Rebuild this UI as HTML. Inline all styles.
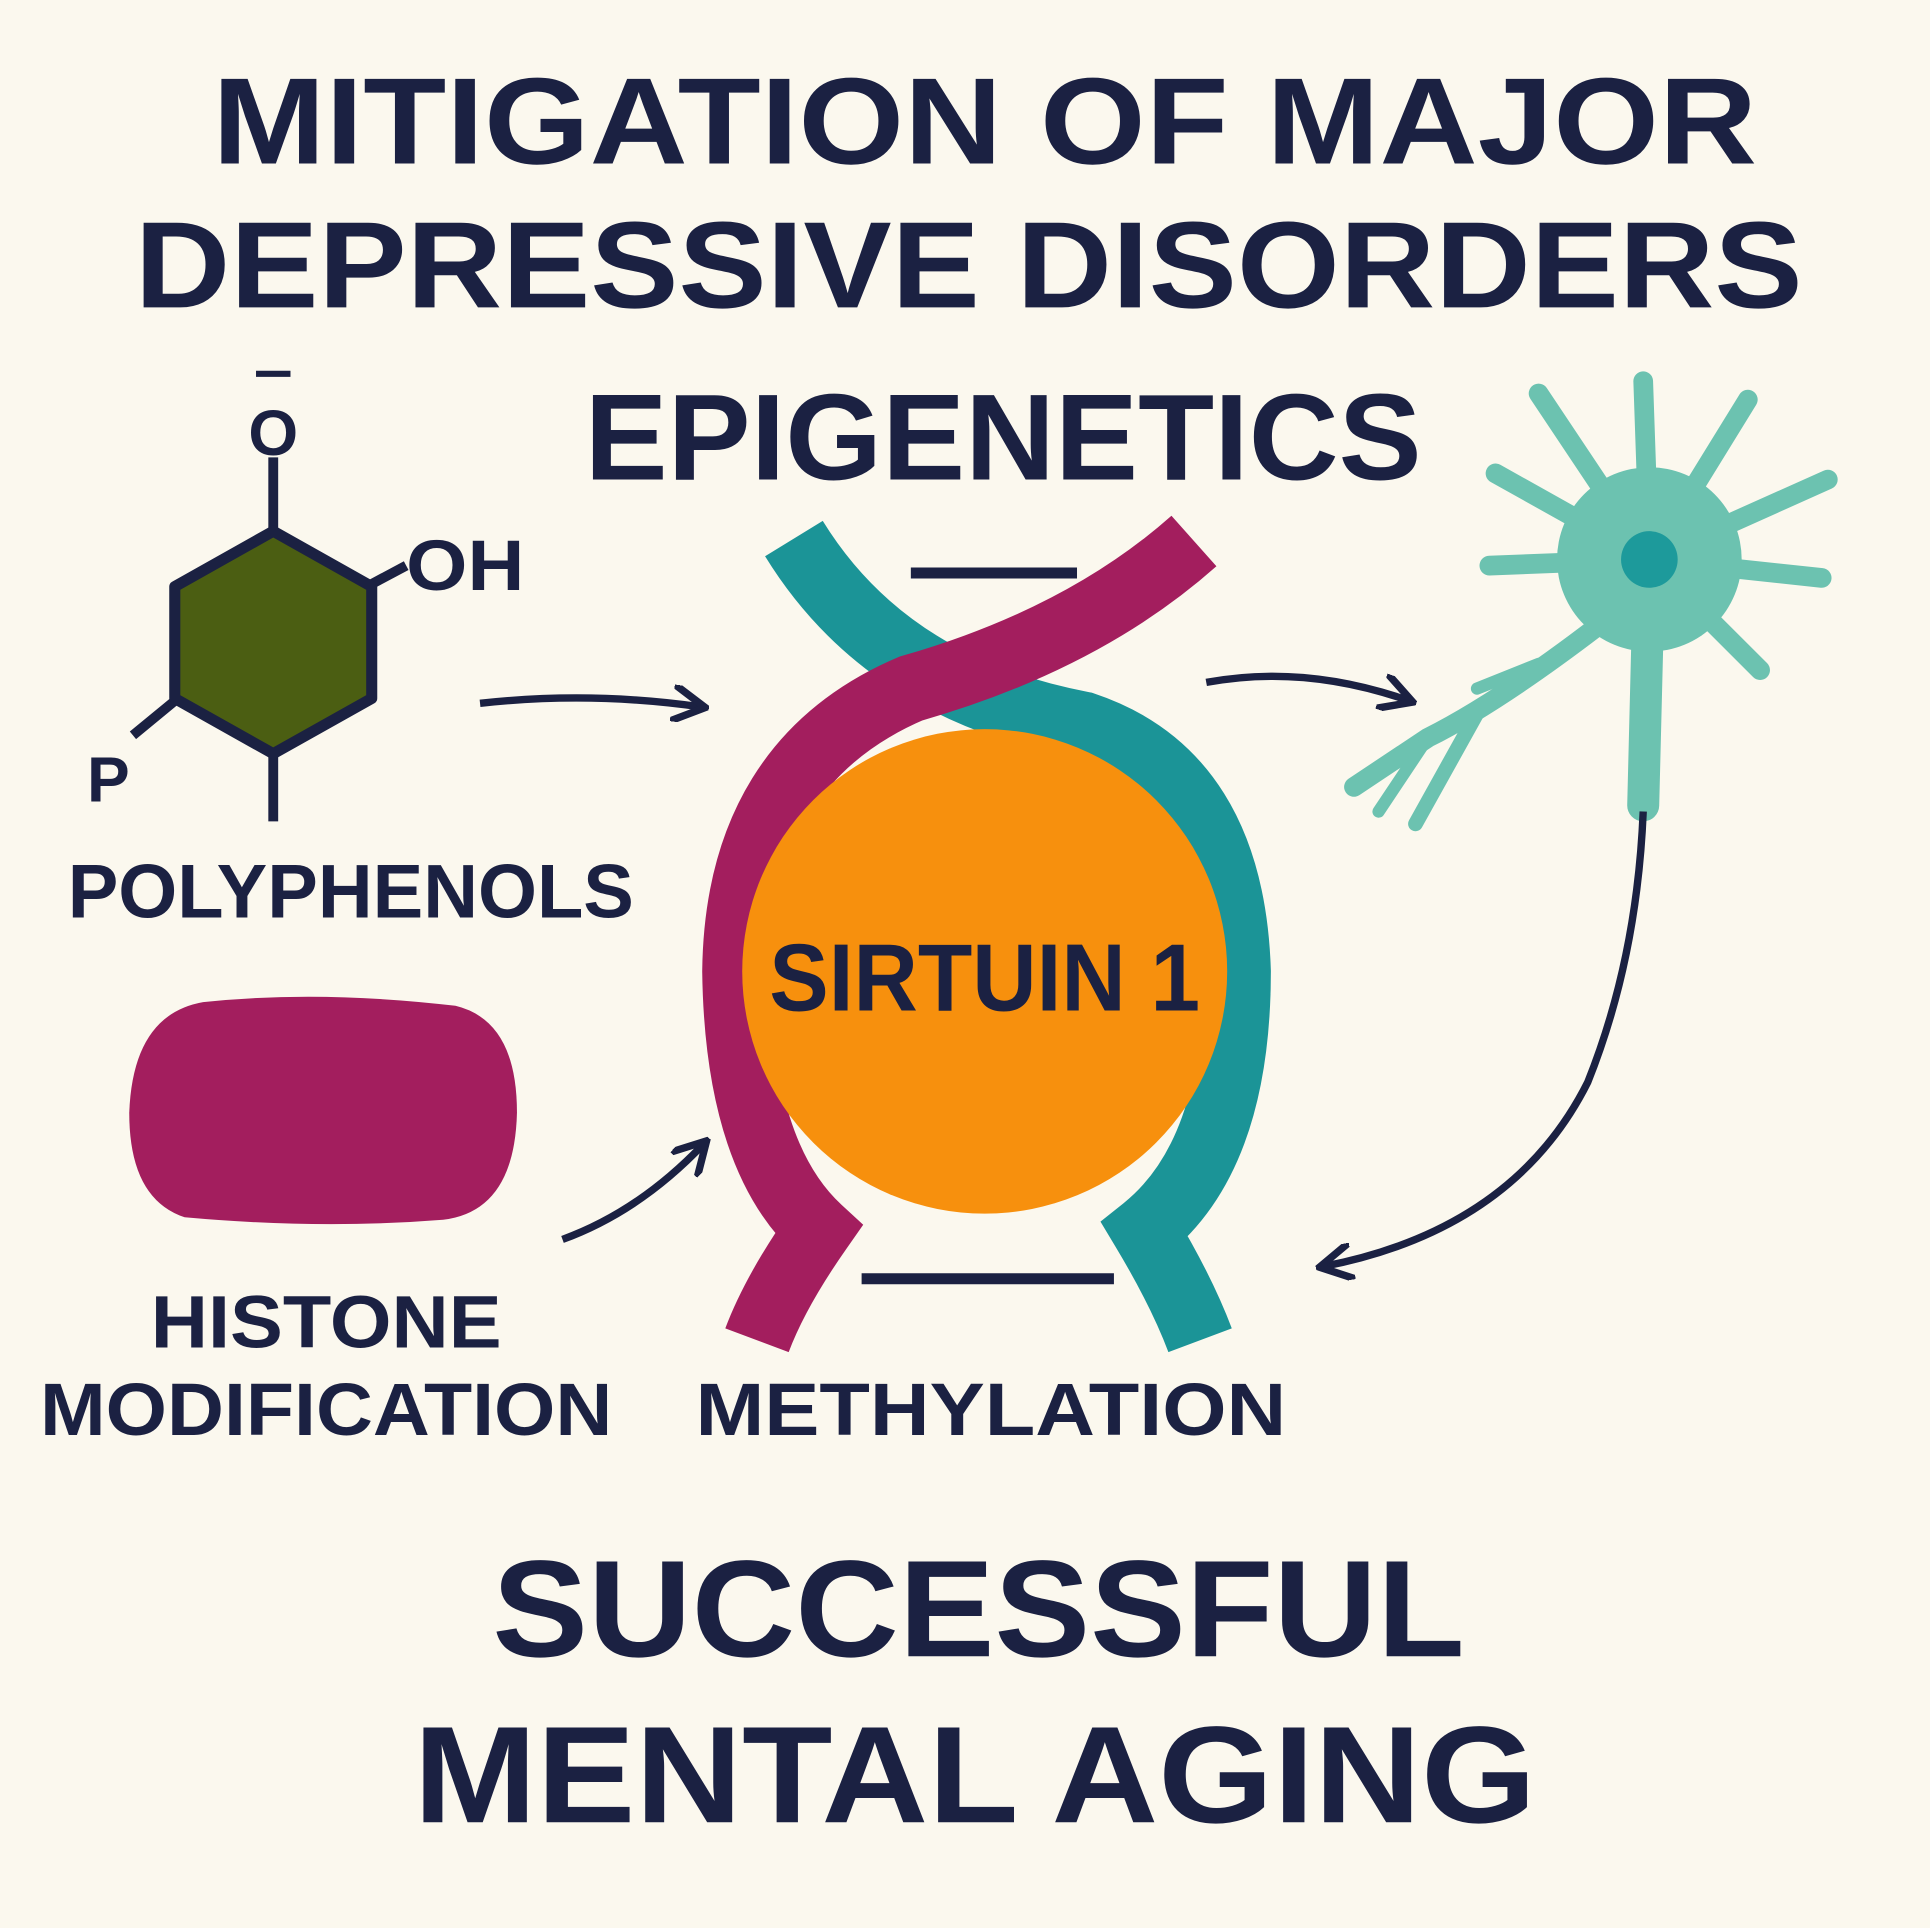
<!DOCTYPE html>
<html><head><meta charset="utf-8"><style>
html,body{margin:0;padding:0;background:#fbf8ee;}
svg{display:block;}
text{font-family:"Liberation Sans",sans-serif;font-weight:bold;fill:#1b2142;text-anchor:middle;}
</style></head><body>
<svg width="1930" height="1928" viewBox="0 0 1568 1568" preserveAspectRatio="none" xmlns="http://www.w3.org/2000/svg">
<defs>
<marker id="ah" viewBox="0 0 10 10" refX="8" refY="5" markerWidth="5" markerHeight="5" orient="auto">
<path d="M0,0 L9,5 L0,10" fill="none" stroke="#1b2142" stroke-width="2"/>
</marker>
</defs>
<rect width="1568" height="1568" fill="#fbf8ee"/>
<text x="800" y="133" font-size="100" textLength="1255" lengthAdjust="spacingAndGlyphs">MITIGATION OF MAJOR</text>
<text x="787" y="250" font-size="100" textLength="1355" lengthAdjust="spacingAndGlyphs">DEPRESSIVE DISORDERS</text>
<text x="815" y="390" font-size="100" textLength="680" lengthAdjust="spacingAndGlyphs">EPIGENETICS</text>

<!-- polyphenol -->
<line x1="222" y1="372" x2="222" y2="432" stroke="#1b2142" stroke-width="8"/>
<line x1="300" y1="476" x2="330" y2="460" stroke="#1b2142" stroke-width="8"/>
<line x1="142" y1="570" x2="108" y2="598" stroke="#1b2142" stroke-width="8"/>
<line x1="222" y1="612" x2="222" y2="668" stroke="#1b2142" stroke-width="8"/>
<polygon points="222,432 302,477 302,568 222,613 142,568 142,477" fill="#4b5e12" stroke="#1b2142" stroke-width="9" stroke-linejoin="round"/>
<text x="222" y="370" font-size="52">O</text>
<line x1="208" y1="304" x2="236" y2="304" stroke="#1b2142" stroke-width="5"/>
<text x="378" y="480" font-size="58" textLength="96" lengthAdjust="spacingAndGlyphs">OH</text>
<text x="88" y="652" font-size="52">P</text>
<text x="285" y="746" font-size="62" textLength="460" lengthAdjust="spacingAndGlyphs">POLYPHENOLS</text>
<path d="M390,572 Q480,562 570,575" fill="none" stroke="#1b2142" stroke-width="6" marker-end="url(#ah)"/>

<!-- histone -->
<path d="M165,815 Q260,805 370,818 Q420,830 420,905 Q418,985 360,992 Q260,1000 150,990 Q105,975 105,905 Q108,825 165,815 Z" fill="#a31e5e"/>
<path d="M457,1008 Q520,985 572,930" fill="none" stroke="#1b2142" stroke-width="6" marker-end="url(#ah)"/>
<text x="265" y="1096" font-size="60" textLength="285" lengthAdjust="spacingAndGlyphs">HISTONE</text>
<text x="265" y="1167" font-size="60" textLength="465" lengthAdjust="spacingAndGlyphs">MODIFICATION</text>

<!-- DNA -->
<line x1="740" y1="466" x2="875" y2="466" stroke="#1b2142" stroke-width="9"/>
<line x1="700" y1="1040" x2="905" y2="1040" stroke="#1b2142" stroke-width="9"/>
<path d="M645,438 Q720,560 880,590 Q1000,630 1005,790 Q1005,940 930,1000 Q960,1050 975,1090" fill="none" stroke="#1b9497" stroke-width="55"/>
<path d="M970,440 Q880,520 740,560 Q600,620 598,790 Q600,940 665,1000 Q630,1050 615,1090" fill="none" stroke="#a31e5e" stroke-width="55"/>
<circle cx="800" cy="790" r="197" fill="#f7900d"/>
<text x="800" y="822" font-size="78" textLength="350" lengthAdjust="spacingAndGlyphs">SIRTUIN 1</text>
<text x="805" y="1167" font-size="60" textLength="480" lengthAdjust="spacingAndGlyphs">METHYLATION</text>

<!-- neuron -->
<g stroke="#6cc2b0" stroke-linecap="round" fill="none">
<line x1="1340" y1="455" x2="1250" y2="320" stroke-width="16"/>
<line x1="1340" y1="455" x2="1335" y2="310" stroke-width="16"/>
<line x1="1340" y1="455" x2="1420" y2="325" stroke-width="16"/>
<line x1="1340" y1="455" x2="1485" y2="390" stroke-width="16"/>
<line x1="1340" y1="455" x2="1480" y2="470" stroke-width="16"/>
<line x1="1340" y1="455" x2="1430" y2="545" stroke-width="16"/>
<line x1="1340" y1="455" x2="1215" y2="385" stroke-width="16"/>
<line x1="1340" y1="455" x2="1210" y2="460" stroke-width="16"/>
<path d="M1340,455 L1335,655" stroke-width="26"/>
<path d="M1310,500 Q1220,570 1160,600 L1100,640" stroke-width="16"/>
<path d="M1200,580 L1150,670" stroke-width="12"/>
<path d="M1160,600 L1120,660" stroke-width="10"/>
<path d="M1250,540 L1200,560" stroke-width="10"/>
</g>
<circle cx="1340" cy="455" r="75" fill="#6cc2b0"/>
<circle cx="1340" cy="455" r="23" fill="#1d9a9b"/>
<path d="M980,555 Q1060,540 1145,570" fill="none" stroke="#1b2142" stroke-width="6" marker-end="url(#ah)"/>
<path d="M1335,660 Q1330,780 1290,880 Q1230,1000 1075,1030" fill="none" stroke="#1b2142" stroke-width="6" marker-end="url(#ah)"/>

<text x="795" y="1347" font-size="112" textLength="790" lengthAdjust="spacingAndGlyphs">SUCCESSFUL</text>
<text x="792" y="1482" font-size="112" textLength="912" lengthAdjust="spacingAndGlyphs">MENTAL AGING</text>
</svg>
</body></html>
